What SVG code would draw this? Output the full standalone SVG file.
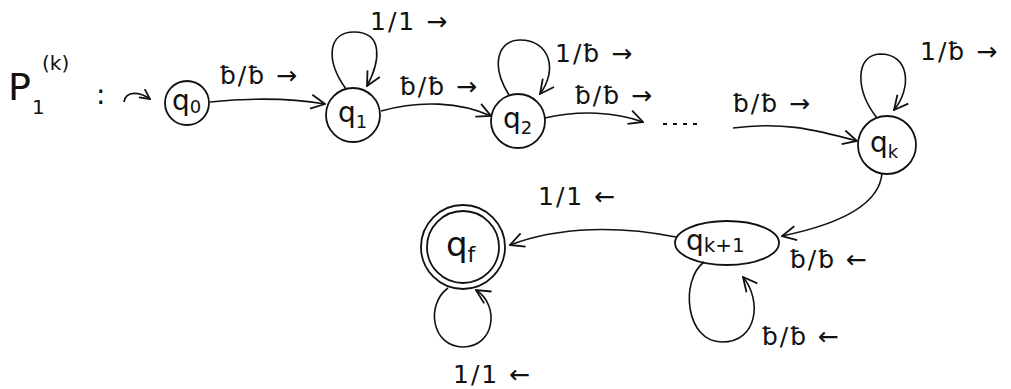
<svg xmlns="http://www.w3.org/2000/svg" width="1011" height="389" viewBox="0 0 1011 389">
<defs>
<marker id="ah" viewBox="0 0 12 12" refX="11" refY="6" markerWidth="12" markerHeight="12" markerUnits="userSpaceOnUse" orient="auto">
<path d="M1,1 L11,6 L1,11" fill="none" stroke="#111" stroke-width="1.8"/>
</marker>
<marker id="ah2" viewBox="0 0 16 16" refX="15" refY="8" markerWidth="16" markerHeight="16" markerUnits="userSpaceOnUse" orient="auto">
<path d="M1,1 L15,8 L1,15" fill="none" stroke="#111" stroke-width="1.8"/>
</marker>
</defs>
<style>
.st{fill:none;stroke:#111;stroke-width:1.8}
.e{fill:none;stroke:#111;stroke-width:1.6;marker-end:url(#ah2)}
.t{font-family:"DejaVu Sans",sans-serif;font-size:28px;fill:#111}
.s{font-family:"DejaVu Sans",sans-serif;font-size:18px;fill:#111}
.l{font-family:"DejaVu Sans",sans-serif;font-size:25px;letter-spacing:2px;fill:#111}
</style>
<rect width="1011" height="389" fill="#fff"/>
<g id="title">
<text class="t" x="8" y="100" style="font-size:38px">P</text>
<text class="s" x="42" y="70" style="font-size:20px">(k)</text>
<text class="s" x="32" y="114" style="font-size:20px">1</text>
<text class="t" x="96" y="104">:</text>
</g>
<g id="q0"><circle class="st" cx="187" cy="103" r="22"/><text class="t" x="172" y="110">q<tspan class="s" dy="3">0</tspan></text></g>
<g id="q1"><circle class="st" cx="353" cy="115" r="27"/><text class="t" x="338" y="122">q<tspan class="s" dy="6">1</tspan></text></g>
<g id="q2"><circle class="st" cx="518" cy="121" r="27"/><text class="t" x="503" y="128">q<tspan class="s" dy="6">2</tspan></text></g>
<g id="qk"><circle class="st" cx="887" cy="145" r="29"/><text class="t" x="870" y="152">q<tspan class="s" dy="6">k</tspan></text></g>
<g id="qk1"><ellipse class="st" cx="727" cy="243" rx="52" ry="22"/><text class="t" x="686" y="250">q<tspan class="s" dy="2" style="font-size:20px">k+1</tspan></text></g>
<g id="qf"><circle class="st" cx="463" cy="247" r="42"/><circle class="st" cx="463" cy="247" r="36"/><text class="t" x="446" y="256" style="font-size:34px">q<tspan class="s" dy="6" style="font-size:22px">f</tspan></text></g>
<g id="connectors">
<path class="st" d="M124,102 C126,90 140,92 150,99" style="marker-end:url(#ah)"/>
<path class="e" d="M210,102 C250,98 290,98 325,104"/>
<path class="e" d="M346,89 C325,60 328,32 354,32 C384,32 380,62 367,86"/>
<path class="e" d="M381,111 C420,100 460,102 491,116"/>
<path class="e" d="M509,95 C490,65 498,40 520,40 C550,40 558,70 540,94"/>
<path class="e" d="M545,118 C580,110 615,112 643,122"/>
<path class="st" d="M663,124 L700,124" stroke-dasharray="4 6"/>
<path class="e" d="M733,128 C780,122 810,128 857,141"/>
<path class="e" d="M877,118 C855,90 855,55 880,54 C910,54 912,88 894,110"/>
<path class="e" d="M882,173 C880,200 850,222 782,236"/>
<path class="e" d="M704,262 C680,280 685,342 722,342 C758,342 762,300 743,277"/>
<path class="e" d="M676,237 C620,226 560,226 510,245"/>
<path class="e" d="M448,288 C425,305 432,347 463,347 C495,347 500,305 476,290"/>
</g>
<g id="labels">
<text class="l" x="220" y="84">ƀ/ƀ →</text>
<text class="l" x="370" y="30">1/1 →</text>
<text class="l" x="400" y="95">ƀ/ƀ →</text>
<text class="l" x="555" y="62">1/ƀ →</text>
<text class="l" x="575" y="104">ƀ/ƀ →</text>
<text class="l" x="733" y="112">ƀ/ƀ →</text>
<text class="l" x="920" y="60">1/ƀ →</text>
<text class="l" x="790" y="268">ƀ/ƀ ←</text>
<text class="l" x="538" y="205">1/1 ←</text>
<text class="l" x="762" y="345">ƀ/ƀ ←</text>
<text class="l" x="453" y="383">1/1 ←</text>
</g>
</svg>
